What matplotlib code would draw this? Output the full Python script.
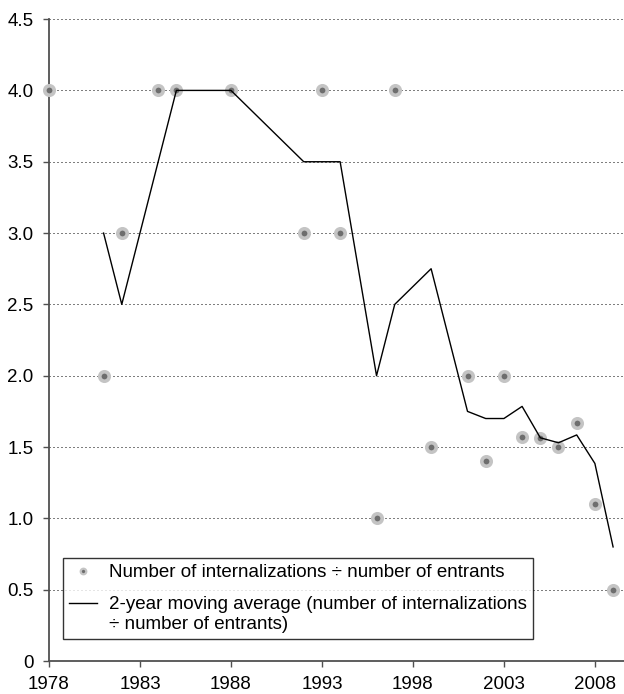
import matplotlib
matplotlib.use("Agg")
import matplotlib.pyplot as plt
from matplotlib.lines import Line2D
from matplotlib.legend_handler import HandlerLine2D
import numpy as np

# yearly ratio: internalizations / entrants
years = [1978, 1981, 1982, 1984, 1985, 1988, 1992, 1993, 1994, 1996, 1997,
         1999, 2001, 2002, 2003, 2004, 2005, 2006, 2007, 2008, 2009]
ratio = [4.0, 2.0, 3.0, 4.0, 4.0, 4.0, 3.0, 4.0, 3.0, 1.0, 4.0,
         1.5, 2.0, 1.4, 2.0, 1.57, 1.56, 1.5, 1.67, 1.1, 0.5]

# 2-year moving average of the ratio
ma_years = [1981, 1982, 1984, 1985, 1988, 1992, 1993, 1994, 1996, 1997, 1999,
            2001, 2002, 2003, 2004, 2005, 2006, 2007, 2008, 2009]
ma_ratio = [3.0, 2.5, 3.5, 4.0, 4.0, 3.5, 3.5, 3.5, 2.0, 2.5, 2.75,
            1.75, 1.7, 1.7, 1.785, 1.565, 1.53, 1.585, 1.385, 0.8]

x_ticks = [1978, 1983, 1988, 1993, 1998, 2003, 2008]
y_ticks = [0, 0.5, 1.0, 1.5, 2.0, 2.5, 3.0, 3.5, 4.0, 4.5]
y_labels = ["0", "0.5", "1.0", "1.5", "2.0", "2.5", "3.0", "3.5", "4.0", "4.5"]

FS = 13.5
plt.rcParams["font.family"] = ["Liberation Sans", "DejaVu Sans"]


class FirstLineHandler(HandlerLine2D):
    """Line handle lifted to sit beside the first line of a two-line label."""

    def create_artists(self, legend, orig_handle, xdescent, ydescent,
                       width, height, fontsize, trans):
        artists = super().create_artists(legend, orig_handle, xdescent, ydescent,
                                         width, height, fontsize, trans)
        for a in artists:
            a.set_ydata(np.asarray(a.get_ydata()) + 0.6 * fontsize)
        return artists


fig = plt.figure(figsize=(6.24, 6.94), dpi=100)
ax = fig.add_axes([0.0785, 0.0475, 0.9215, 0.925])

pt_face = "#6e6e6e"
pt_edge = "#c4c4c4"

for y in y_ticks[1:]:
    ax.axhline(y, color="black", lw=0.72, ls=(0, (1, 3)), zorder=1)

ax.plot(years, ratio, ls="", marker="o", ms=6.8, mfc=pt_face, mec=pt_edge,
        mew=2.6, zorder=3, clip_on=False)
ax.plot(ma_years, ma_ratio, color="black", lw=1.0, zorder=4)

ax.set_xlim(1978, 2009.6)
ax.set_ylim(0, 4.5)
ax.set_xticks(x_ticks)
ax.set_yticks(y_ticks)
ax.set_yticklabels(y_labels)

for side in ["top", "right"]:
    ax.spines[side].set_visible(False)
for side in ["left", "bottom"]:
    ax.spines[side].set_color("#505050")
    ax.spines[side].set_linewidth(1.3)
ax.tick_params(axis="both", direction="out", length=4, width=1, color="#505050",
               labelsize=FS)
ax.tick_params(axis="x", pad=7)
ax.tick_params(axis="y", pad=7)

dot_handle = Line2D([], [], ls="", marker="o", ms=4, mfc=pt_face, mec=pt_edge, mew=1.6)
line_handle = Line2D([], [], color="black", lw=1.0)
labels = [
    "Number of internalizations \u00f7 number of entrants",
    "2-year moving average (number of internalizations\n\u00f7 number of entrants)",
]
leg = ax.legend([dot_handle, line_handle], labels, loc="lower left",
                bbox_to_anchor=(0.024, 0.034), borderaxespad=0, fontsize=FS,
                frameon=True, fancybox=False, edgecolor="black",
                handlelength=1.5, handletextpad=0.6, labelspacing=0.78,
                borderpad=0.35, handler_map={line_handle: FirstLineHandler()})
leg.get_frame().set_linewidth(1.0)
leg.set_zorder(5)

fig.savefig("out.png", dpi=100)
